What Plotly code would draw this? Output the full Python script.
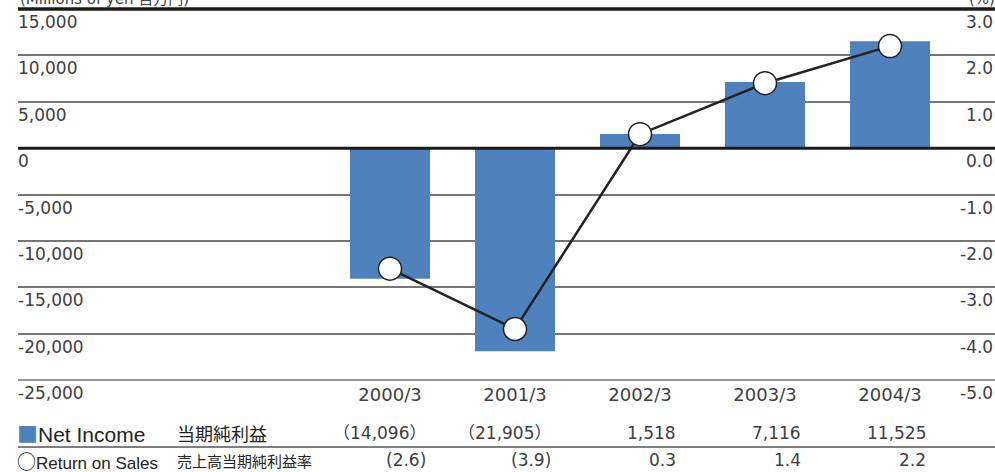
import plotly.graph_objects as go

# ---- data ----
categories = ["2000/3", "2001/3", "2002/3", "2003/3", "2004/3"]
net_income = [-14096, -21905, 1518, 7116, 11525]
return_on_sales = [-2.6, -3.9, 0.3, 1.4, 2.2]
net_income_text = ["（14,096）", "（21,905）", "1,518", "7,116", "11,525"]
ros_text = ["(2.6)", "(3.9)", "0.3", "1.4", "2.2"]
left_tick_vals = [15000, 10000, 5000, 0, -5000, -10000, -15000, -20000, -25000]
left_tick_text = ["15,000", "10,000", "5,000", "0", "-5,000", "-10,000", "-15,000", "-20,000", "-25,000"]
right_tick_vals = [3, 2, 1, 0, -1, -2, -3, -4, -5]
right_tick_text = ["3.0", "2.0", "1.0", "0.0", "-1.0", "-2.0", "-3.0", "-4.0", "-5.0"]

# ---- layout constants ----
W, H = 995, 472
ML, MR, MT, MB = 18, 0, 9, 92
PH = H - MT - MB
PW = W - ML - MR
BLUE = "#4F81BD"
FONT = "DejaVu Sans, Noto Sans CJK JP, sans-serif"
JFONT = "Noto Sans CJK JP, sans-serif"
TXT = "#404040"
xpos = list(range(len(categories)))


def ypaper(px):
    return (H - MB - px) / PH


fig = go.Figure()
fig.add_trace(go.Bar(x=xpos, y=net_income, width=0.64, marker=dict(color=BLUE, line=dict(width=0)),
                     showlegend=False, hoverinfo="skip"))
fig.add_trace(go.Scatter(x=xpos, y=return_on_sales, yaxis="y2", mode="lines+markers",
                         line=dict(color="#222222", width=2.5),
                         marker=dict(size=23, color="white", line=dict(color="#222222", width=1.5)),
                         showlegend=False, hoverinfo="skip"))

fig.update_layout(
    width=W, height=H, autosize=False,
    margin=dict(l=ML, r=MR, t=MT, b=MB, pad=0),
    plot_bgcolor="white", paper_bgcolor="white",
    font=dict(family=FONT, size=17, color=TXT),
    xaxis=dict(range=[-2.976, 4.84], tickvals=xpos, ticktext=categories, showgrid=False,
               zeroline=False, showline=False, ticks="", ticklabelstandoff=2,
               tickfont=dict(size=18, color=TXT)),
    yaxis=dict(range=[-25000, 15000], tickvals=left_tick_vals, showticklabels=False,
               showgrid=True, gridcolor="#767676", gridwidth=1.6, zeroline=False, showline=False,
               ticks=""),
    yaxis2=dict(range=[-5, 3], overlaying="y", side="right", tickvals=right_tick_vals,
                showticklabels=False, showgrid=False, zeroline=False, showline=False, ticks=""),
)

# top border line, zero line, bottom gridline
fig.add_shape(type="line", xref="paper", yref="paper", x0=0, x1=1, y0=1, y1=1,
              line=dict(color="#1a1a1a", width=3.5), layer="above")
fig.add_shape(type="line", xref="paper", yref="y", x0=0, x1=1, y0=0, y1=0,
              line=dict(color="#1a1a1a", width=3), layer="above")
fig.add_shape(type="line", xref="paper", yref="paper", x0=0, x1=1, y0=0, y1=0,
              line=dict(color="#767676", width=1.6), layer="below")
# table separator
fig.add_shape(type="line", xref="paper", yref="paper", x0=0, x1=1, y0=ypaper(447), y1=ypaper(447),
              line=dict(color="#555555", width=1.5))

ann = []
# axis labels below each gridline
for v, t in zip(left_tick_vals, left_tick_text):
    ann.append(dict(xref="paper", yref="y", x=0, y=v, xanchor="left", yanchor="middle", yshift=-13,
                    xshift=-2, text=t, showarrow=False, font=dict(size=17, color=TXT)))
for v, t in zip(right_tick_vals, right_tick_text):
    ann.append(dict(xref="paper", yref="y2", x=1, y=v, xanchor="right", yanchor="middle", yshift=-13,
                    xshift=0, text=t, showarrow=False, font=dict(size=17, color=TXT)))
# headers (mostly cut off at top, as in the source)
ann.append(dict(xref="paper", yref="paper", x=0, y=1, xanchor="left", yanchor="bottom", yshift=-1,
                text="(Millions of yen 百万円)", showarrow=False, font=dict(size=15, color=TXT)))
ann.append(dict(xref="paper", yref="paper", x=1, y=1, xanchor="right", yanchor="bottom", yshift=-1,
                xshift=2, text="(%)", showarrow=False, font=dict(size=15, color=TXT)))
# table row labels
ann.append(dict(xref="paper", yref="paper", x=0, y=ypaper(433), xanchor="left", yanchor="middle",
                xshift=-3,
                text=f"<span style='color:{BLUE};font-family:Noto Sans CJK JP;font-size:21px'>■</span>Net Income",
                showarrow=False, font=dict(size=21, color="#222222", family="Liberation Sans, Noto Sans CJK JP")))
ann.append(dict(xref="paper", yref="paper", x=(175 - ML) / PW, y=ypaper(433), xanchor="left",
                yanchor="middle", text="当期純利益", showarrow=False,
                font=dict(size=18, color="#222222", family=JFONT)))
ann.append(dict(xref="paper", yref="paper", x=0, y=ypaper(460), xanchor="left", yanchor="middle",
                xshift=-3,
                text="<span style='font-family:Noto Sans CJK JP;font-size:19px'>○</span>Return on Sales",
                showarrow=False, font=dict(size=17, color="#222222", family="Liberation Sans, Noto Sans CJK JP")))
ann.append(dict(xref="paper", yref="paper", x=(175 - ML) / PW, y=ypaper(460), xanchor="left",
                yanchor="middle", text="売上高当期純利益率", showarrow=False,
                font=dict(size=15, color="#222222", family=JFONT)))
for i, (a, b) in enumerate(zip(net_income_text, ros_text)):
    ann.append(dict(xref="x", yref="paper", x=xpos[i] + 0.30, y=ypaper(433), xanchor="right",
                    yanchor="middle", text=a, showarrow=False, font=dict(size=17, color=TXT)))
    ann.append(dict(xref="x", yref="paper", x=xpos[i] + 0.30, y=ypaper(460), xanchor="right",
                    yanchor="middle", text=b, showarrow=False, font=dict(size=17, color=TXT)))
fig.update_layout(annotations=ann)

fig.write_html("out.html", config={"displayModeBar": False},
               post_script="document.body.style.margin='0';")
